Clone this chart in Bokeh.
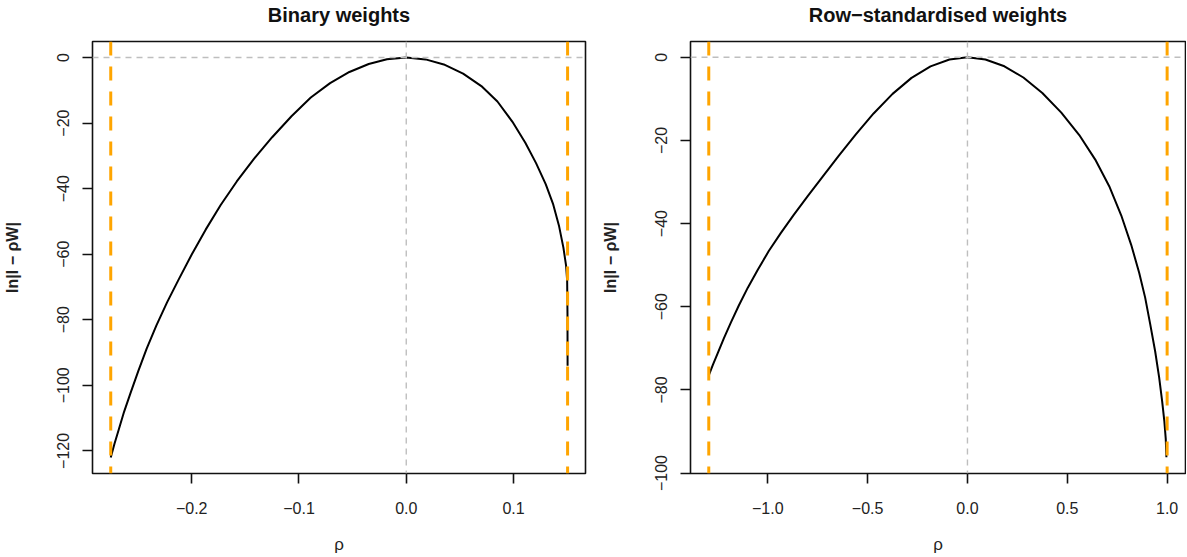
from bokeh.plotting import figure
from bokeh.models import Range1d, FixedTicker, Span
from bokeh.layouts import row
from bokeh.embed import file_html
from bokeh.resources import INLINE

# ---- data ----
rho_bin = [-0.2755, -0.2720, -0.2680, -0.2630, -0.2570, -0.2500, -0.2420, -0.2330,
           -0.2230, -0.2120, -0.2000, -0.1870, -0.1730, -0.1580, -0.1420, -0.1250,
           -0.1070, -0.0890, -0.0710, -0.0530, -0.0350, -0.0180, 0.0, 0.0180,
           0.0350, 0.0530, 0.0700, 0.0850, 0.0990, 0.1110, 0.1210, 0.1300,
           0.1370, 0.1425, 0.1465, 0.1490, 0.1500, 0.1503, 0.1504]
lnd_bin = [-122.0, -117.8, -113.5, -108.0, -102.3, -95.8, -88.8, -81.8,
           -74.7, -67.6, -60.1, -52.5, -45.0, -37.8, -30.9, -24.3,
           -17.9, -12.2, -7.8, -4.4, -1.95, -0.52, 0.0, -0.56,
           -2.1, -4.9, -8.7, -13.4, -19.6, -26.0, -32.2, -38.6,
           -44.8, -51.5, -58.0, -63.5, -68.0, -78.0, -94.0]
bounds_bin = [-0.2755, 0.1504]

rho_row = [-1.2955, -1.275, -1.250, -1.220, -1.185, -1.145, -1.100, -1.050,
           -0.995, -0.935, -0.870, -0.800, -0.725, -0.645, -0.560, -0.470,
           -0.375, -0.280, -0.185, -0.090, 0.0, 0.090, 0.185, 0.280,
           0.375, 0.470, 0.560, 0.640, 0.710, 0.770, 0.820, 0.860,
           0.890, 0.915, 0.940, 0.960, 0.975, 0.986, 0.993, 0.9965]
lnd_row = [-76.5, -74.0, -71.1, -67.6, -63.8, -59.7, -55.4, -51.1,
           -46.6, -42.3, -37.9, -33.4, -28.7, -23.7, -18.6, -13.5,
           -8.8, -4.95, -2.18, -0.52, 0.0, -0.52, -2.16, -4.86,
           -8.6, -13.3, -18.7, -24.6, -31.0, -38.0, -45.1, -51.8,
           -57.8, -64.1, -70.7, -77.0, -82.7, -87.5, -91.7, -96.2]
bounds_row = [-1.2955, 1.0]

xt_bin = [-0.2, -0.1, 0.0, 0.1]
xl_bin = ["\u22120.2", "\u22120.1", "0.0", "0.1"]
yt_bin = [0, -20, -40, -60, -80, -100, -120]
yl_bin = ["0", "\u221220", "\u221240", "\u221260", "\u221280", "\u2212100", "\u2212120"]

xt_row = [-1.0, -0.5, 0.0, 0.5, 1.0]
xl_row = ["\u22121.0", "\u22120.5", "0.0", "0.5", "1.0"]
yt_row = [0, -20, -40, -60, -80, -100]
yl_row = ["0", "\u221220", "\u221240", "\u221260", "\u221280", "\u2212100"]

titles = ["Binary weights", "Row\u2212standardised weights"]
ylabel = "ln|I \u2212 \u03c1W|"
xlabel = "\u03c1"

FONT = "Liberation Sans"


def make_panel(title, rho, lnd, bounds, xr, yr, xt, xl, yt, yl, width, mbl, mbr):
    p = figure(width=width, height=556, x_range=Range1d(*xr), y_range=Range1d(*yr),
               output_backend="svg", toolbar_location=None,
               min_border_left=mbl, min_border_right=mbr,
               min_border_top=41, min_border_bottom=77)
    # a trailing empty line with tight line height lifts the title text
    p.title.text = title + "\n"
    p.title.text_line_height = 0.62
    p.title.align = "center"
    p.title.text_font = FONT
    p.title.text_font_size = "20px"
    p.title.text_font_style = "bold"
    p.title.text_color = "#111111"
    p.title.standoff = 3
    p.xgrid.visible = False
    p.ygrid.visible = False
    p.outline_line_color = "#111111"
    p.outline_line_width = 1.6
    p.background_fill_color = "white"
    p.border_fill_color = "white"

    for ax in (p.xaxis[0], p.yaxis[0]):
        ax.axis_line_color = None
        ax.major_tick_in = 0
        ax.major_tick_out = 10
        ax.major_tick_line_width = 1.6
        ax.major_tick_line_color = "#111111"
        ax.minor_tick_line_color = None
        ax.major_label_text_font = FONT
        ax.major_label_text_font_size = "16px"
        ax.major_label_text_color = "#222222"
        ax.axis_label_text_font = FONT
        ax.axis_label_text_color = "#222222"

    p.xaxis.ticker = FixedTicker(ticks=xt)
    p.xaxis.major_label_overrides = {t: l for t, l in zip(xt, xl)}
    p.xaxis.major_label_standoff = 18
    p.xaxis.axis_label = xlabel
    p.xaxis.axis_label_text_font_size = "17px"
    p.xaxis.axis_label_text_font_style = "normal"
    p.xaxis.axis_label_standoff = 18

    p.yaxis.ticker = FixedTicker(ticks=yt)
    p.yaxis.major_label_overrides = {t: l for t, l in zip(yt, yl)}
    p.yaxis.major_label_orientation = "vertical"
    p.yaxis.major_label_standoff = 13
    p.yaxis.axis_label = ylabel
    p.yaxis.axis_label_text_font_size = "16px"
    p.yaxis.axis_label_text_font_style = "bold"
    p.yaxis.axis_label_standoff = 34

    p.add_layout(Span(location=0, dimension="width", line_color="#BEBEBE",
                      line_width=1.4, line_dash="6 5"))
    p.add_layout(Span(location=0, dimension="height", line_color="#BEBEBE",
                      line_width=1.4, line_dash="6 5"))
    p.line(rho, lnd, line_color="black", line_width=2)
    for b in bounds:
        p.add_layout(Span(location=b, dimension="height", line_color="#FFA500",
                          line_width=3, line_dash="14 11"))
    return p


p1 = make_panel(titles[0], rho_bin, lnd_bin, bounds_bin, (-0.2925, 0.1671), (-126.9, 4.9),
                xt_bin, xl_bin, yt_bin, yl_bin, 598, 90, 13)
p2 = make_panel(titles[1], rho_row, lnd_row, bounds_row, (-1.387, 1.092), (-100.1, 3.8),
                xt_row, xl_row, yt_row, yl_row, 588, 91, 1)

layout = row(p1, p2)
open("out.html", "w").write(file_html(layout, INLINE))
